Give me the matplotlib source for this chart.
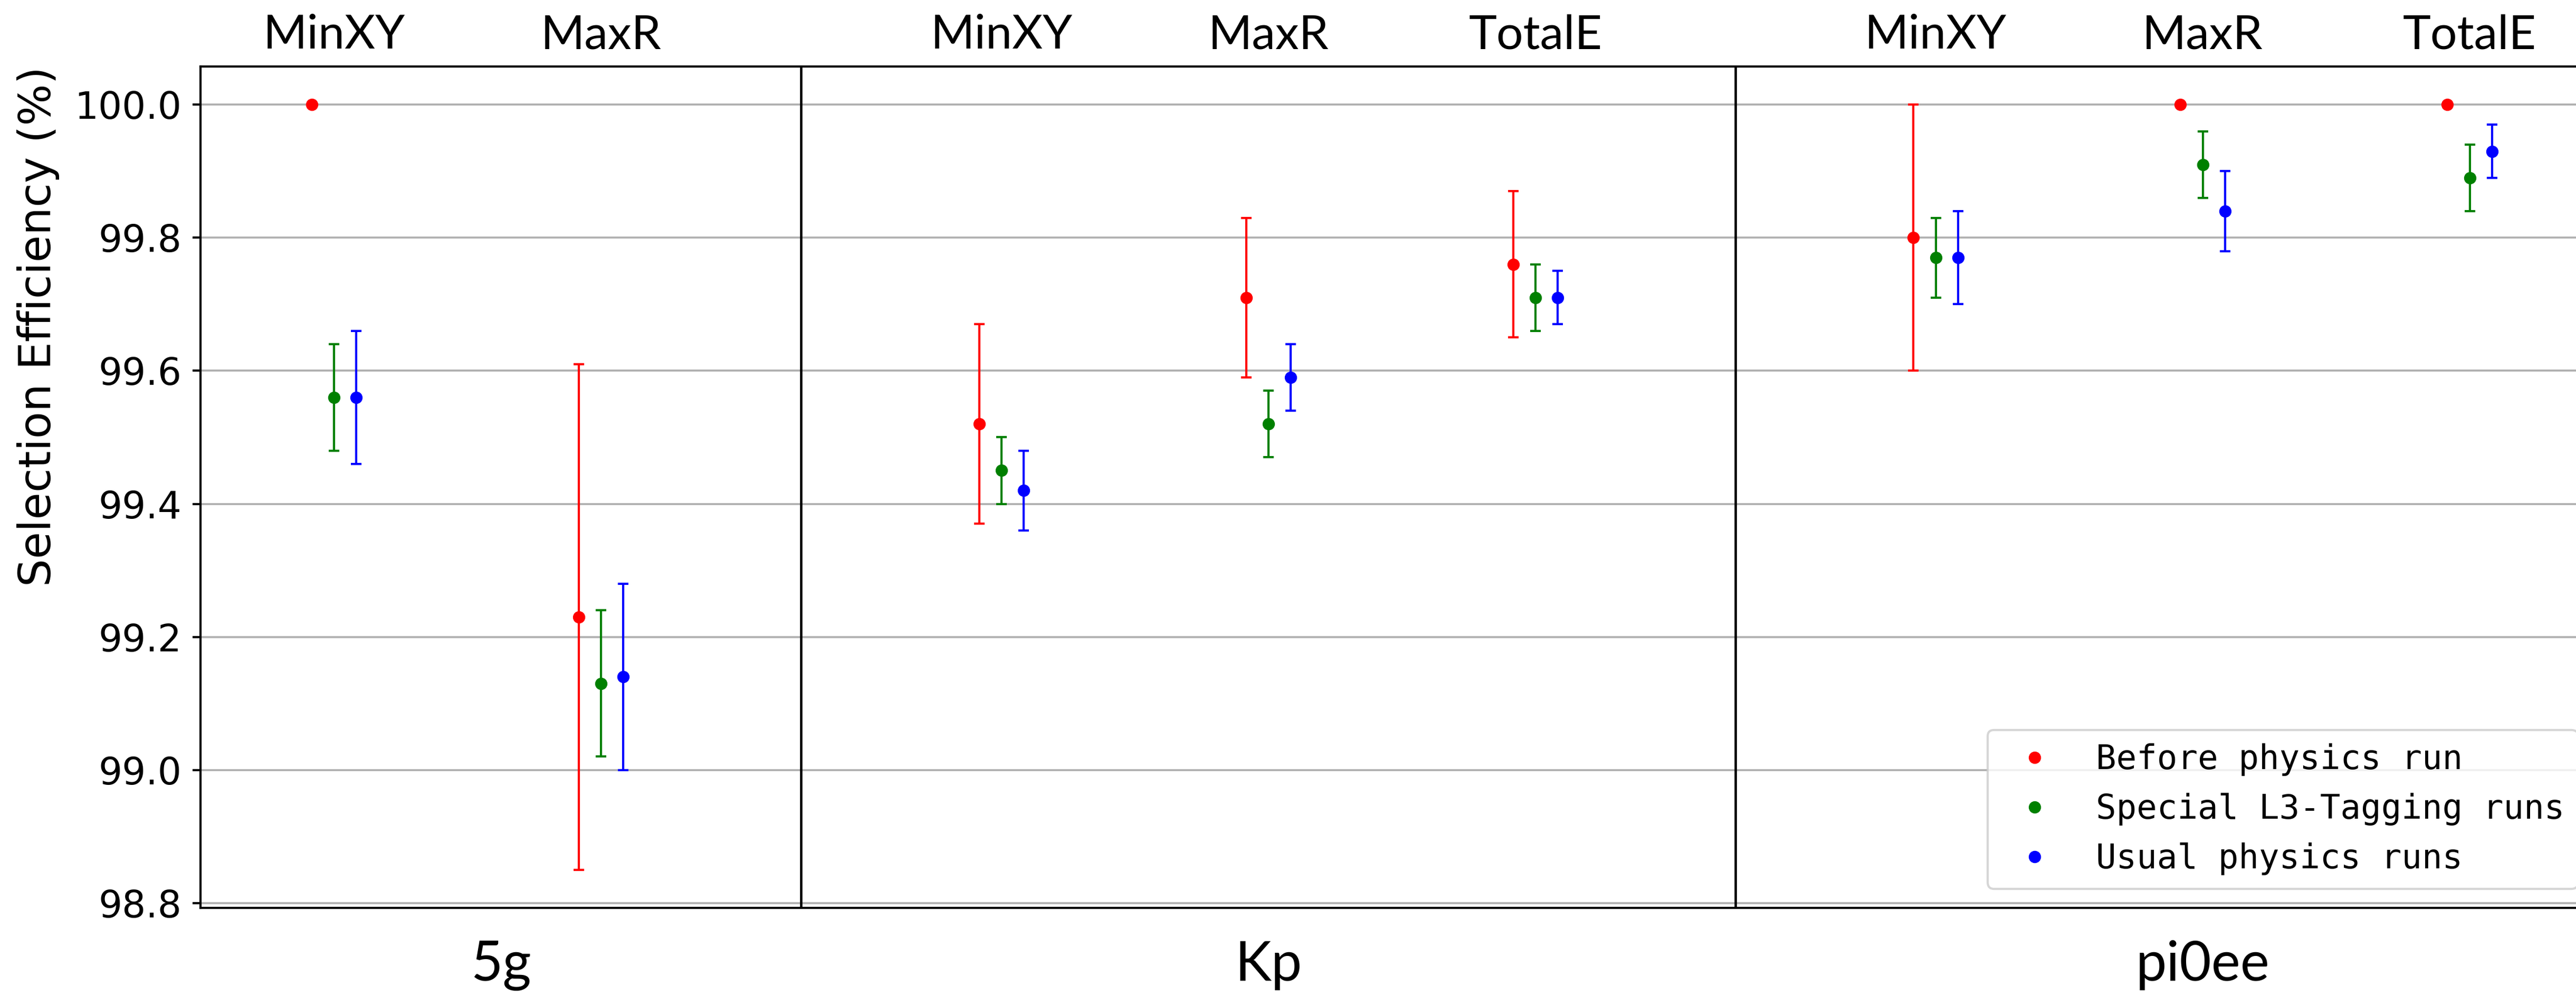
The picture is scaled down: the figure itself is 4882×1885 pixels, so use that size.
import matplotlib
matplotlib.use("Agg")
import matplotlib.pyplot as plt
from matplotlib.transforms import blended_transform_factory

# Decay channels and the selection cut evaluated for each of them
groups = ["5g", "Kp", "pi0ee"]
group_cuts = [
    ["MinXY", "MaxR"],
    ["MinXY", "MaxR", "TotalE"],
    ["MinXY", "MaxR", "TotalE"],
]

series_names = ["Before physics run", "Special L3-Tagging runs", "Usual physics runs"]
series_colors = ["red", "green", "blue"]

# Selection efficiency (%) and its uncertainty, one entry per (channel, cut)
before_eff = [100.00, 99.23, 99.52, 99.71, 99.76, 99.80, 100.00, 100.00]
before_err = [0.00, 0.38, 0.15, 0.12, 0.11, 0.20, 0.00, 0.00]
special_eff = [99.56, 99.13, 99.45, 99.52, 99.71, 99.77, 99.91, 99.89]
special_err = [0.08, 0.11, 0.05, 0.05, 0.05, 0.06, 0.05, 0.05]
usual_eff = [99.56, 99.14, 99.42, 99.59, 99.71, 99.77, 99.84, 99.93]
usual_err = [0.10, 0.14, 0.06, 0.05, 0.04, 0.07, 0.06, 0.04]

series_eff = [before_eff, special_eff, usual_eff]
series_err = [before_err, special_err, usual_err]

# Category positions: consecutive cuts one unit apart, channels separated by an extra half unit
positions, cut_labels, group_first_last = [], [], []
x = 0.0
for cuts in group_cuts:
    first = x
    for c in cuts:
        positions.append(x)
        cut_labels.append(c)
        x += 1.0
    group_first_last.append((first, x - 1.0))
    x += 0.5

dividers = [(group_first_last[i][1] + group_first_last[i + 1][0]) / 2
            for i in range(len(groups) - 1)]
x_left = group_first_last[0][0] - 0.5
x_right = group_first_last[-1][1] + 0.75
edges = [x_left] + dividers + [x_right]
group_centers = [(edges[i] + edges[i + 1]) / 2 for i in range(len(groups))]

offsets = [-1 / 12, 0.0, 1 / 12]

W, H, DPI = 4882, 1885, 300
fig = plt.figure(figsize=(W / DPI, H / DPI), dpi=DPI)
ax_left_px, ax_right_px = 380, 5060
ax_top_px, ax_bot_px = 126, 1720
ax = fig.add_axes([ax_left_px / W, (H - ax_bot_px) / H,
                   (ax_right_px - ax_left_px) / W, (ax_bot_px - ax_top_px) / H])

handles = []
for eff, err, col, off in zip(series_eff, series_err, series_colors, offsets):
    xs = [p + off for p in positions]
    cont = ax.errorbar(xs, eff, yerr=err, fmt="o", color=col, ms=4.6,
                       elinewidth=1.0, capsize=2.4, capthick=1.0, zorder=3)
    handles.append(cont[0])

for d in dividers:
    ax.axvline(d, color="black", lw=1.1, zorder=2)

ax.set_xlim(x_left, x_right)
lo = min(min(e - u for e, u in zip(s, r)) for s, r in zip(series_eff, series_err))
hi = max(max(e + u for e, u in zip(s, r)) for s, r in zip(series_eff, series_err))
pad = 0.05 * (hi - lo)
ax.set_ylim(lo - pad, hi + pad)

ax.yaxis.grid(True, color="#b0b0b0", lw=0.9, zorder=0)
ax.set_axisbelow(True)
ax.yaxis.set_major_formatter(matplotlib.ticker.FormatStrFormatter("%.1f"))
ax.tick_params(axis="y", labelsize=17, length=3.5, width=1.0, pad=5)

# Cut names along the top
ax.set_xticks(positions)
ax.set_xticklabels(cut_labels, fontfamily="Lato", fontsize=21.5)
ax.xaxis.tick_top()
ax.tick_params(axis="x", length=0, pad=4.3)

# Channel names under each block
trans = blended_transform_factory(ax.transData, ax.transAxes)
label_y = -(1858 - ax_bot_px) / (ax_bot_px - ax_top_px)
for g, cx in zip(groups, group_centers):
    ax.text(cx, label_y, g, transform=trans, ha="center", va="baseline",
            fontfamily="Lato", fontsize=25)

for s in ax.spines.values():
    s.set_linewidth(1.0)

ax.set_ylabel("Selection Efficiency (%)", fontsize=20, loc="top", labelpad=7)

ax.legend(handles, series_names, loc="lower right",
          bbox_to_anchor=(4886 / W, (H - 1684) / H), bbox_transform=fig.transFigure,
          borderaxespad=0, prop={"family": "DejaVu Sans Mono", "size": 15.4})

fig.savefig("out.png", dpi=DPI)
